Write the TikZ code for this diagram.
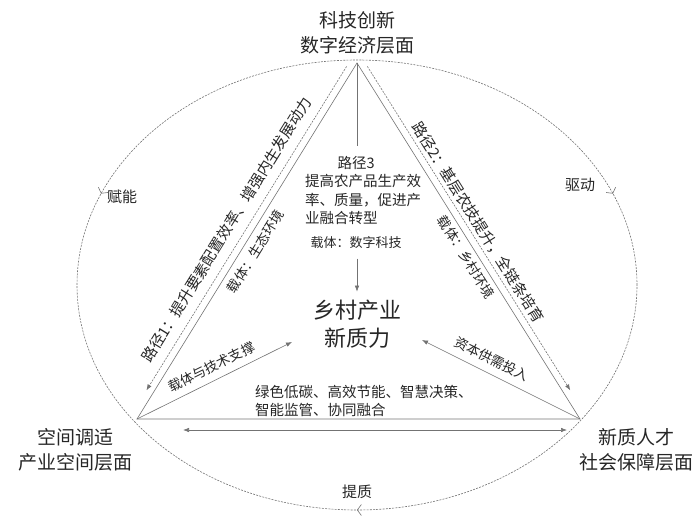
\documentclass[tikz,border=0pt]{standalone}
\usepackage{fontspec}
\newfontfamily\cjk{Noto Sans CJK SC}
\usetikzlibrary{arrows.meta,calc,decorations.markings}

\begin{document}
\begin{tikzpicture}[x=1pt,y=1pt,>={Latex[length=6pt,width=4.5pt]},
 every node/.style={font=\cjk,text=black!85,inner sep=1pt},
 edge line/.style={draw=black!55,line width=0.6pt},
 route line/.style={draw=black!55,line width=0.6pt,dash pattern=on 2pt off 1.2pt,->},
 level/.style={font=\cjk\fontsize{19}{25}\selectfont,align=center},
 carrier/.style={font=\cjk\fontsize{13.5}{16}\selectfont},
 route/.style={font=\cjk\fontsize{15}{18}\selectfont}]
\useasboundingbox (0,0) rectangle (700,-526);
% triangle corners
\coordinate (A) at (357,-63);
\coordinate (B) at (137,-419);
\coordinate (C) at (580,-419);
% outer cycle
\draw[black!55,line width=0.6pt,dash pattern=on 2pt off 1.2pt,
 postaction={decorate,decoration={markings,
  mark=at position 0.06 with {\arrowreversed{Straight Barb[length=4pt,width=11pt]}},
  mark=at position 0.44 with {\arrow{Straight Barb[length=4pt,width=11pt]}},
  mark=at position 0.75 with {\arrowreversed{Straight Barb[length=4pt,width=11pt]}}}}]
 (357,-285) ellipse [x radius=280,y radius=225];
\node[route] (fu) at (122,-197) {赋能};
\node[route] (qu) at (580,-185) {驱动};
\node[route] (ti) at (357,-492) {提质};
% three levels
\node[level] (tech) at (357,-33) {科技创新\\数字经济层面};
\node[level] (space) at (75,-450) {空间调适\\产业空间层面};
\node[level] (talent) at (636,-450) {新质人才\\社会保障层面};
% triangle
\draw[edge line] (A) -- (B) -- (C) -- cycle;
% routes 1 and 2
\coordinate (r1s) at ($(A)!0.02!(B)+(-6,3.7)$);
\coordinate (r1e) at ($(A)!0.93!(B)+(-6,3.7)$);
\coordinate (r2s) at ($(A)!0.02!(C)+(5.9,3.7)$);
\coordinate (r2e) at ($(A)!0.93!(C)+(5.9,3.7)$);
\draw[route line] (r1s) -- (r1e)
 node[route,pos=0.53,sloped,above=8pt] {路径1：提升要素配置效率、增强内生发展动力};
\draw[route line] (r2s) -- (r2e)
 node[route,midway,sloped,above=2.5pt] {路径2：基层农技提升，全链条培育};
\path (A) -- (B) node[carrier,pos=0.51,sloped,below=5pt] {载体：生态环境};
\path (A) -- (C) node[carrier,pos=0.53,sloped,below=3pt] {载体：乡村环境};
% centre
\node[font=\cjk\fontsize{22}{28}\selectfont,align=center,inner sep=8pt] (core) at (357,-324) {乡村产业\\新质力};
\node[font=\cjk\fontsize{14.5}{18.5}\selectfont,align=left,anchor=north west,inner ysep=10pt] (p3) at (304,-146)
 {\makebox[102pt]{路径3}\\提高农产品生产效\\率、质量，促进产\\业融合转型\\[5pt]\makebox[102pt]{\fontsize{13}{16}\selectfont 载体：数字科技}};
\draw[edge line] (A) -- (A |- p3.north);
\draw[edge line,->] (core |- p3.south) -- (core);
\coordinate (inL) at (292,-342);
\coordinate (inR) at (422,-340);
\draw[edge line,->] (B) -- (inL) node[carrier,pos=0.52,sloped,above=6pt] {载体与技术支撑};
\draw[edge line,->] (C) -- (inR) node[carrier,pos=0.6,sloped,above=7pt] {资本供需投入};
\node[font=\cjk\fontsize{14.5}{18}\selectfont,align=left,anchor=west] (feat) at (254,-401)
 {绿色低碳、高效节能、智慧决策、\\智能监管、协同融合};
% base arrow
\coordinate (bl) at (183,-430);
\coordinate (br) at (567,-430);
\draw[edge line,<->] (bl) -- (br);
\end{tikzpicture}
\end{document}
